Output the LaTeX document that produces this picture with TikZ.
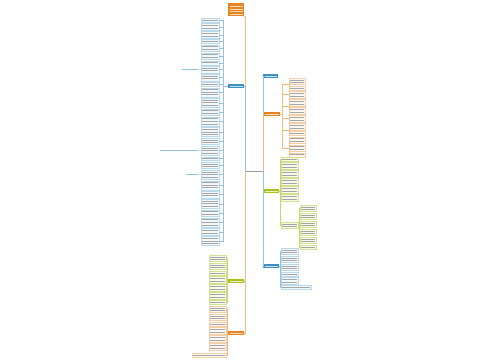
\documentclass[tikz,border=0pt]{standalone}
\definecolor{cblue}{HTML}{3A8FC7}
\definecolor{corange}{HTML}{E8841F}
\definecolor{cgreen}{HTML}{A9C21B}
\tikzset{
  leafbox/.style={inner sep=0pt,line width=0.3pt},
  bleaf/.style={fill=cblue!6,draw=cblue!35},
  gleaf/.style={fill=cgreen!8,draw=cgreen!50},
  oleaf/.style={fill=corange!6,draw=corange!40},
  txtbar/.style={line width=0.7pt,draw=black!35},
  blink/.style={draw=cblue!55,line width=0.4pt},
  glink/.style={draw=cgreen!65,line width=0.4pt},
  olink/.style={draw=corange!55,line width=0.4pt},
}
\newcommand\leaf[6]{%
  \node[leafbox,#2,minimum width=#5pt,minimum height=#6*2.6pt+1.2pt,anchor=north west] (#1) at (#3,#4) {};
  \foreach \k in {1,...,#6}{\draw[txtbar] ([xshift=1.2pt,yshift=-\k*2.6pt+0.7pt]#1.north west) -- ++(#5pt-2.4pt,0);}%
}
\newcommand\branch[5]{%
  \node[fill=#2,minimum width=#5pt,minimum height=4.4pt,anchor=west,inner sep=0pt] (#1) at (#3,#4) {};
  \draw[white!75!#2,line width=0.8pt] ([xshift=1.5pt]#1.west) -- ([xshift=-1.5pt]#1.east);%
}
\newcommand\lab[5]{%
  \node[minimum width=#5pt,minimum height=2.4pt,anchor=west,inner sep=0pt] (#1) at (#3,#4) {};
  \draw[#2,line width=0.7pt] (#1.west) -- (#1.east);%
}
\begin{document}
\begin{tikzpicture}[x=1pt,y=-1pt]
\useasboundingbox[fill=white] (0,0) rectangle (500,360);

% root
\node[minimum width=16pt,minimum height=3pt,inner sep=0pt,anchor=west] (root) at (246,171) {};
\draw[black!40,line width=0.7pt] (root.west) -- (root.east);

% top box
\node[fill=corange,minimum width=16pt,minimum height=13pt,inner sep=0pt,anchor=north west] (top) at (228,3) {};
\foreach \k in {1,...,4}{\draw[white!70!corange,line width=0.8pt] ([xshift=1.5pt,yshift=-\k*2.8pt-0.4pt]top.north west) -- ++(13pt,0);}

% branches
\branch{buL}{cblue}{228}{86}{16}
\branch{grL}{cgreen}{228}{281}{16}
\branch{orL}{corange}{228}{333}{16}
\branch{bt}{cblue}{263}{76}{15}
\branch{orR}{corange}{263}{114}{17}
\branch{grR}{cgreen}{263}{191}{16}
\branch{buR}{cblue}{263}{266}{16}

% root connectors
\draw[olink] (root.west) -- ++(-1,0) |- (top.south east);
\draw[blink] (root.west) -- ++(-1,0) |- (buL.east);
\draw[glink] (root.west) -- ++(-1,0) |- (grL.east);
\draw[olink] (root.west) -- ++(-1,0) |- (orL.east);
\draw[blink] (root.east) -- ++(0.5,0) |- (bt.west);
\draw[olink] (root.east) -- ++(0.5,0) |- (orR.west);
\draw[glink] (root.east) -- ++(0.5,0) |- (grR.west);
\draw[blink] (root.east) -- ++(0.5,0) |- (buR.west);

% left blue leaves
\foreach \y/\n [count=\i] in {18/1,23.4/2,31.4/2,39.4/1,44.8/2,52.8/2,60.8/1,66.2/2,74.2/2,82.2/1,87.6/3,98.2/3,108.8/2,116.8/3,127.4/3,138/2,146/3,156.6/1,162/2,170/3,180.6/3,191.2/2,199.2/3,209.8/2,217.8/3,228.4/2,236.4/3}{
  \leaf{bl\i}{bleaf}{201}{\y}{18}{\n}
  \draw[blink] (buL.west) -- ++(-5,0) |- (bl\i.east);
}
\lab{sl1}{cblue!55}{182}{69.4}{16}
\lab{sl2}{cblue!55}{160}{150.5}{38}
\lab{sl3}{cblue!55}{186}{174.5}{12}
\draw[blink] (bl8.west) -- (sl1.east);
\draw[blink] (bl17.west) -- (sl2.east);
\draw[blink] (bl20.west) -- (sl3.east);

% left green leaves
\foreach \y/\n [count=\i] in {255/2,263/2,271/1,276.4/2,284.4/2,292.4/2,300.4/1}{
  \leaf{gl\i}{gleaf}{209}{\y}{17}{\n}
  \draw[glink] (grL.west) -- ++(-1,0) |- (gl\i.east);
}

% left orange leaves
\foreach \y/\n [count=\i] in {306/2,314/2,322/1,327.4/2,335.4/2,343.4/2}{
  \leaf{ol\i}{oleaf}{209}{\y}{17}{\n}
  \draw[olink] (orL.west) -- ++(-1,0) |- (ol\i.east);
}
\leaf{ol7}{oleaf}{192}{353}{34}{1}
\draw[olink] (orL.west) -- ++(-1,0) |- (ol7.east);

% right orange: sub labels and leaves
\foreach \y [count=\i] in {84.5,94.6,106.6,118.6,130,148}{
  \lab{os\i}{corange!60}{282.5}{\y}{5}
  \draw[olink] (orR.east) -- ++(1.5,0) |- (os\i.west);
}
\foreach \y/\n [count=\i] in {78/2,86/1,91.4/2,99.4/2,107.4/2,115.4/2,123.4/2,131.4/1,136.8/2,144.8/2,152.8/1}{
  \leaf{or\i}{oleaf}{289}{\y}{16}{\n}
}
\foreach \a/\b in {1/1,1/2,2/3,3/4,3/5,4/6,5/7,5/8,6/9,6/10,6/11}{
  \draw[olink] (os\a.east) -- ++(1,0) |- (or\b.west);
}

% right green leaves
\foreach \y/\n [count=\i] in {157/1,162.4/2,170.4/2,178.4/2,186.4/2,194.4/2,222/2}{
  \leaf{gr\i}{gleaf}{281}{\y}{17}{\n}
  \draw[glink] (grR.east) -- ++(1,0) |- (gr\i.west);
}
\foreach \y/\n [count=\i] in {205/2,213/2,221/2,229/2,237/2,245/1}{
  \leaf{gs\i}{gleaf}{300}{\y}{16}{\n}
  \draw[glink] (gr7.east) -- ++(1,0) |- (gs\i.west);
}

% right blue leaves
\foreach \y/\n [count=\i] in {248/2,256/2,264/2,272/1,277.4/2}{
  \leaf{br\i}{bleaf}{281}{\y}{17}{\n}
  \draw[blink] (buR.east) -- ++(1,0) |- (br\i.west);
}
\leaf{br6}{bleaf}{281}{285.4}{30}{1}
\draw[blink] (buR.east) -- ++(1,0) |- (br6.west);
\end{tikzpicture}
\end{document}
